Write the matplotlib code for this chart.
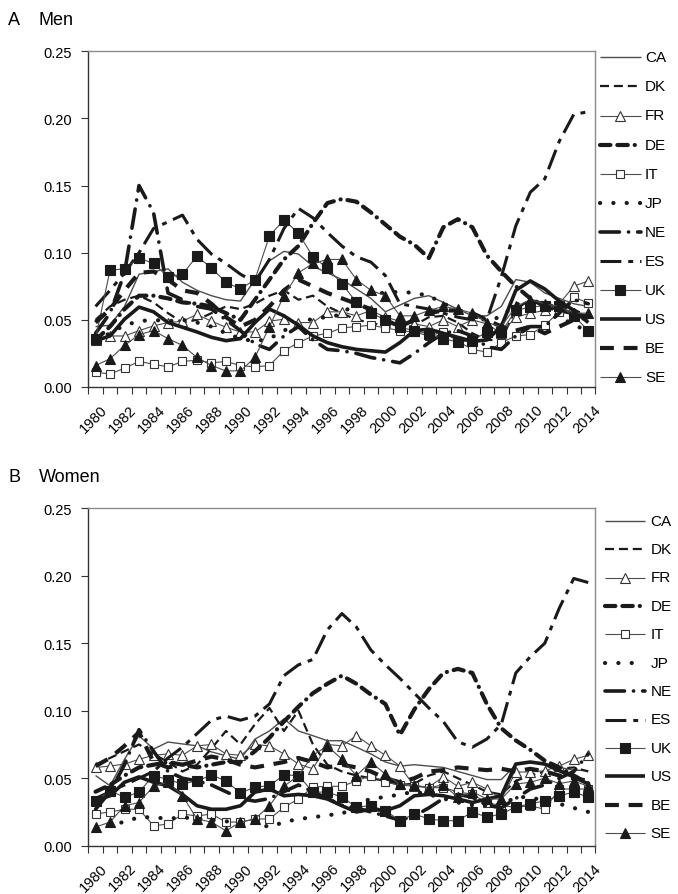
import numpy as np
import matplotlib
matplotlib.use("Agg")
import matplotlib.pyplot as plt
from matplotlib.lines import Line2D
from matplotlib.transforms import ScaledTranslation, blended_transform_factory

plt.rcParams["font.family"] = ["Liberation Sans", "DejaVu Sans"]
plt.rcParams["lines.scale_dashes"] = False

years = list(range(1980, 2015))
countries = ["CA", "DK", "FR", "DE", "IT", "JP", "NE", "ES", "UK", "US", "BE", "SE"]

# ---- Men ----
CA_m = [0.045,0.046,0.060,0.084,0.086,0.088,0.078,0.072,0.068,0.065,0.064,0.080,0.094,0.101,0.099,0.090,0.085,0.080,0.073,0.066,0.056,0.061,0.066,0.068,0.063,0.058,0.053,0.053,0.060,0.080,0.078,0.070,0.066,0.062,0.060]
DK_m = [0.050,0.060,0.065,0.068,0.063,0.055,0.048,0.050,0.055,0.060,0.058,0.062,0.068,0.072,0.065,0.068,0.060,0.055,0.050,0.048,0.045,0.043,0.046,0.052,0.053,0.048,0.040,0.035,0.035,0.058,0.065,0.062,0.060,0.058,0.052]
FR_m = [0.035,0.038,0.038,0.042,0.0455,0.048,0.049,0.054,0.049,0.0445,0.041,0.041,0.049,0.0505,0.048,0.048,0.056,0.056,0.053,0.057,0.052,0.049,0.047,0.045,0.050,0.045,0.050,0.047,0.040,0.052,0.055,0.057,0.062,0.075,0.079]
DE_m = [0.035,0.045,0.058,0.068,0.068,0.066,0.063,0.062,0.060,0.055,0.050,0.065,0.080,0.095,0.105,0.122,0.137,0.140,0.138,0.130,0.121,0.112,0.106,0.096,0.119,0.125,0.119,0.098,0.086,0.075,0.066,0.060,0.057,0.055,0.052]
IT_m = [0.011,0.0097,0.014,0.019,0.017,0.015,0.019,0.020,0.018,0.019,0.016,0.015,0.016,0.027,0.033,0.038,0.040,0.044,0.045,0.046,0.044,0.042,0.041,0.038,0.041,0.034,0.028,0.026,0.033,0.038,0.039,0.046,0.056,0.067,0.0625]
JP_m = [0.035,0.040,0.046,0.049,0.050,0.049,0.050,0.048,0.045,0.040,0.036,0.034,0.036,0.042,0.047,0.051,0.052,0.054,0.064,0.070,0.070,0.071,0.070,0.068,0.062,0.058,0.054,0.050,0.052,0.062,0.060,0.057,0.053,0.046,0.042]
NE_m = [0.040,0.055,0.085,0.150,0.130,0.070,0.065,0.060,0.058,0.050,0.042,0.032,0.028,0.038,0.045,0.035,0.028,0.027,0.025,0.022,0.020,0.018,0.025,0.033,0.040,0.042,0.038,0.030,0.028,0.038,0.045,0.045,0.055,0.065,0.062]
ES_m = [0.060,0.072,0.085,0.100,0.118,0.123,0.128,0.110,0.099,0.092,0.084,0.078,0.095,0.118,0.133,0.126,0.115,0.105,0.097,0.093,0.083,0.062,0.060,0.058,0.055,0.052,0.050,0.050,0.082,0.120,0.145,0.155,0.183,0.203,0.205]
UK_m = [0.036,0.087,0.088,0.096,0.092,0.082,0.084,0.0975,0.0885,0.078,0.073,0.080,0.1125,0.1245,0.1145,0.097,0.0885,0.077,0.063,0.055,0.050,0.0445,0.042,0.0395,0.036,0.0335,0.0345,0.041,0.041,0.057,0.0595,0.0605,0.0605,0.053,0.042]
US_m = [0.0345,0.038,0.0505,0.0595,0.056,0.048,0.0445,0.041,0.037,0.0345,0.036,0.048,0.058,0.053,0.046,0.038,0.033,0.030,0.028,0.027,0.026,0.033,0.042,0.043,0.040,0.037,0.034,0.035,0.045,0.072,0.079,0.073,0.064,0.057,0.048]
BE_m = [0.048,0.058,0.072,0.085,0.086,0.080,0.072,0.070,0.062,0.052,0.045,0.050,0.060,0.072,0.080,0.075,0.070,0.066,0.062,0.058,0.050,0.045,0.050,0.055,0.057,0.057,0.055,0.050,0.045,0.042,0.045,0.040,0.045,0.050,0.052]
SE_m = [0.016,0.021,0.031,0.039,0.042,0.036,0.031,0.022,0.016,0.012,0.012,0.022,0.045,0.068,0.085,0.092,0.095,0.095,0.080,0.072,0.068,0.053,0.053,0.057,0.060,0.058,0.055,0.048,0.045,0.060,0.065,0.062,0.060,0.055,0.055]

# ---- Women ----
CA_w = [0.052,0.0444,0.064,0.0815,0.0716,0.0768,0.0754,0.074,0.0695,0.0667,0.064,0.079,0.085,0.094,0.085,0.0815,0.0778,0.0778,0.073,0.068,0.062,0.059,0.060,0.059,0.058,0.055,0.052,0.049,0.049,0.060,0.062,0.061,0.058,0.056,0.0556]
DK_w = [0.060,0.065,0.070,0.075,0.068,0.062,0.055,0.060,0.072,0.085,0.075,0.090,0.102,0.085,0.100,0.075,0.060,0.055,0.052,0.050,0.048,0.045,0.046,0.052,0.055,0.050,0.045,0.040,0.038,0.048,0.052,0.055,0.057,0.058,0.055]
FR_w = [0.058,0.059,0.0605,0.064,0.067,0.068,0.067,0.074,0.075,0.068,0.067,0.075,0.074,0.068,0.0605,0.057,0.075,0.074,0.0815,0.074,0.067,0.059,0.044,0.0435,0.051,0.044,0.047,0.042,0.0346,0.0546,0.0546,0.0556,0.059,0.064,0.067]
DE_w = [0.040,0.045,0.052,0.058,0.060,0.062,0.060,0.058,0.060,0.062,0.062,0.070,0.080,0.092,0.103,0.113,0.120,0.126,0.120,0.112,0.105,0.082,0.101,0.116,0.128,0.131,0.128,0.105,0.087,0.078,0.071,0.063,0.058,0.052,0.046]
IT_w = [0.0235,0.025,0.027,0.027,0.0148,0.016,0.0235,0.022,0.0235,0.0175,0.0175,0.0198,0.0198,0.0285,0.0346,0.0435,0.044,0.044,0.048,0.052,0.047,0.045,0.044,0.043,0.043,0.040,0.038,0.032,0.0296,0.0285,0.0296,0.027,0.042,0.042,0.042]
JP_w = [0.0124,0.016,0.0175,0.0212,0.021,0.020,0.021,0.020,0.019,0.018,0.018,0.017,0.0138,0.0175,0.0198,0.021,0.0227,0.0235,0.030,0.035,0.036,0.038,0.040,0.038,0.035,0.032,0.030,0.030,0.030,0.036,0.036,0.033,0.031,0.028,0.025]
NE_w = [0.027,0.040,0.060,0.086,0.070,0.055,0.050,0.048,0.045,0.040,0.035,0.033,0.035,0.040,0.045,0.040,0.035,0.030,0.028,0.025,0.022,0.019,0.022,0.028,0.035,0.038,0.036,0.030,0.028,0.035,0.042,0.045,0.050,0.055,0.068]
ES_w = [0.035,0.040,0.045,0.050,0.055,0.065,0.073,0.083,0.093,0.096,0.093,0.096,0.105,0.126,0.134,0.138,0.160,0.172,0.162,0.145,0.134,0.124,0.113,0.102,0.092,0.077,0.073,0.079,0.090,0.128,0.140,0.150,0.176,0.198,0.195]
UK_w = [0.033,0.0407,0.036,0.0397,0.052,0.049,0.0457,0.048,0.0524,0.048,0.039,0.0435,0.0444,0.0524,0.052,0.0397,0.0397,0.036,0.0287,0.0296,0.026,0.0185,0.0235,0.0198,0.0185,0.0185,0.025,0.0212,0.0235,0.0287,0.031,0.0333,0.037,0.0397,0.036]
US_w = [0.0333,0.037,0.047,0.051,0.047,0.0444,0.038,0.0296,0.027,0.027,0.0296,0.0397,0.042,0.037,0.038,0.037,0.0346,0.0296,0.025,0.027,0.026,0.0296,0.037,0.038,0.037,0.0346,0.032,0.0346,0.037,0.0605,0.062,0.0605,0.0556,0.051,0.0457]
BE_w = [0.059,0.065,0.074,0.084,0.062,0.058,0.060,0.063,0.066,0.064,0.060,0.058,0.060,0.062,0.065,0.062,0.058,0.060,0.058,0.055,0.050,0.047,0.050,0.055,0.056,0.058,0.057,0.056,0.057,0.055,0.057,0.055,0.052,0.050,0.048]
SE_w = [0.0138,0.0175,0.0296,0.032,0.044,0.047,0.037,0.0198,0.0175,0.011,0.0175,0.0198,0.0296,0.044,0.052,0.067,0.074,0.064,0.052,0.062,0.053,0.0457,0.045,0.043,0.045,0.036,0.040,0.0346,0.0346,0.0457,0.047,0.050,0.046,0.048,0.044]

men = dict(CA=CA_m, DK=DK_m, FR=FR_m, DE=DE_m, IT=IT_m, JP=JP_m,
           NE=NE_m, ES=ES_m, UK=UK_m, US=US_m, BE=BE_m, SE=SE_m)
women = dict(CA=CA_w, DK=DK_w, FR=FR_w, DE=DE_w, IT=IT_w, JP=JP_w,
             NE=NE_w, ES=ES_w, UK=UK_w, US=US_w, BE=BE_w, SE=SE_w)

INK = "#1a1a1a"
THIN = "#4d4d4d"
line_styles = {
    "CA": dict(color=THIN, lw=1.0, ls="-"),
    "DK": dict(color=INK, lw=1.6, ls=(0, (6.5, 3.5))),
    "FR": dict(color=THIN, lw=0.8, ls="-"),
    "DE": dict(color=INK, lw=3.0, ls=(0, (7.5, 5, 7.5, 5, 0.1, 5)), dash_capstyle="round"),
    "IT": dict(color=THIN, lw=0.8, ls="-"),
    "JP": dict(color=INK, lw=3.0, ls=(0, (0.1, 9.5)), dash_capstyle="round"),
    "NE": dict(color=INK, lw=2.6, ls=(0, (14, 6.5, 0.1, 6.5)), dash_capstyle="round"),
    "ES": dict(color=INK, lw=2.2, ls=(0, (15, 5, 3.5, 5))),
    "UK": dict(color=THIN, lw=0.8, ls="-"),
    "US": dict(color=INK, lw=2.6, ls="-"),
    "BE": dict(color=INK, lw=3.0, ls=(0, (10, 7))),
    "SE": dict(color=THIN, lw=0.8, ls="-"),
}
marker_styles = {
    "FR": dict(marker="^", ms=7, mfc="white", mec="#333333", mew=0.8),
    "IT": dict(marker="s", ms=6, mfc="white", mec="#333333", mew=0.8),
    "UK": dict(marker="s", ms=6.8, mfc=INK, mec=INK, mew=0.8),
    "SE": dict(marker="^", ms=7, mfc=INK, mec=INK, mew=0.8),
}

W, H = 678, 895
fig = plt.figure(figsize=(W / 100, H / 100), dpi=100)


def fx(px):
    return px / W


def fy(px):
    return 1 - px / H


# (letter, title, data, axes top px, axes bottom px, title y px,
#  legend first row y px, legend row step px, legend handle x0, x1, text x)
panels = [
    ("A", "Men", men, 52.3, 388.0, 20.5, 58.3, 29.1, 599.5, 641.0, 645.0),
    ("B", "Women", women, 509.3, 846.7, 478.0, 521.7, 28.4, 605.0, 645.0, 650.5),
]

x = np.arange(len(years))
for (letter, title, data, top_px, bot_px, title_px,
     leg_y0, leg_dy, hx0, hx1, tx) in panels:
    ax = fig.add_axes([fx(88.3), fy(bot_px), fx(595.5) - fx(88.3),
                       fy(top_px) - fy(bot_px)])
    for c in countries:
        ax.plot(x, data[c], solid_capstyle="butt",
                **line_styles[c], **marker_styles.get(c, {}))
    ax.set_xlim(-0.5, len(years) - 0.5)
    ax.set_ylim(0, 0.25)
    yt = np.arange(0, 0.2501, 0.05)
    ax.set_yticks(yt)
    ax.set_yticklabels([f"{v:.2f}" for v in yt])
    ax.tick_params(axis="y", direction="out", length=5, width=0.8, pad=7,
                   labelsize=10.5, color="#333333")
    ax.set_xticks(np.arange(-0.5, len(years), 1))
    ax.set_xticklabels([])
    ax.tick_params(axis="x", direction="out", length=5, width=0.8,
                   color="#333333")
    # rotated year labels, every second category
    tr = blended_transform_factory(ax.transData, ax.transAxes) + \
        ScaledTranslation(5 / 100, -15 / 100, fig.dpi_scale_trans)
    for i in range(0, len(years), 2):
        ax.text(i, 0, str(years[i]), transform=tr, rotation=45,
                rotation_mode="anchor", ha="right", va="top", fontsize=10.5)
    for side in ("top", "right"):
        ax.spines[side].set_color("#8c8c8c")
        ax.spines[side].set_linewidth(1.0)
    for side in ("left", "bottom"):
        ax.spines[side].set_color("#333333")
        ax.spines[side].set_linewidth(1.0)

    # legend column on the right
    for k, c in enumerate(countries):
        yy = fy(leg_y0 + k * leg_dy)
        fig.add_artist(Line2D([fx(hx0), fx(hx1)], [yy, yy], transform=fig.transFigure,
                              solid_capstyle="butt", **line_styles[c]))
        if c in marker_styles:
            fig.add_artist(Line2D([fx((hx0 + hx1) / 2)], [yy], transform=fig.transFigure,
                                  ls="none", **marker_styles[c]))
        fig.text(fx(tx), yy, c, fontsize=11, va="center", ha="left")

    fig.text(fx(8), fy(title_px), letter, fontsize=13, va="center", ha="left")
    fig.text(fx(39), fy(title_px), title, fontsize=13, va="center", ha="left")

fig.savefig("out.png", dpi=100)
